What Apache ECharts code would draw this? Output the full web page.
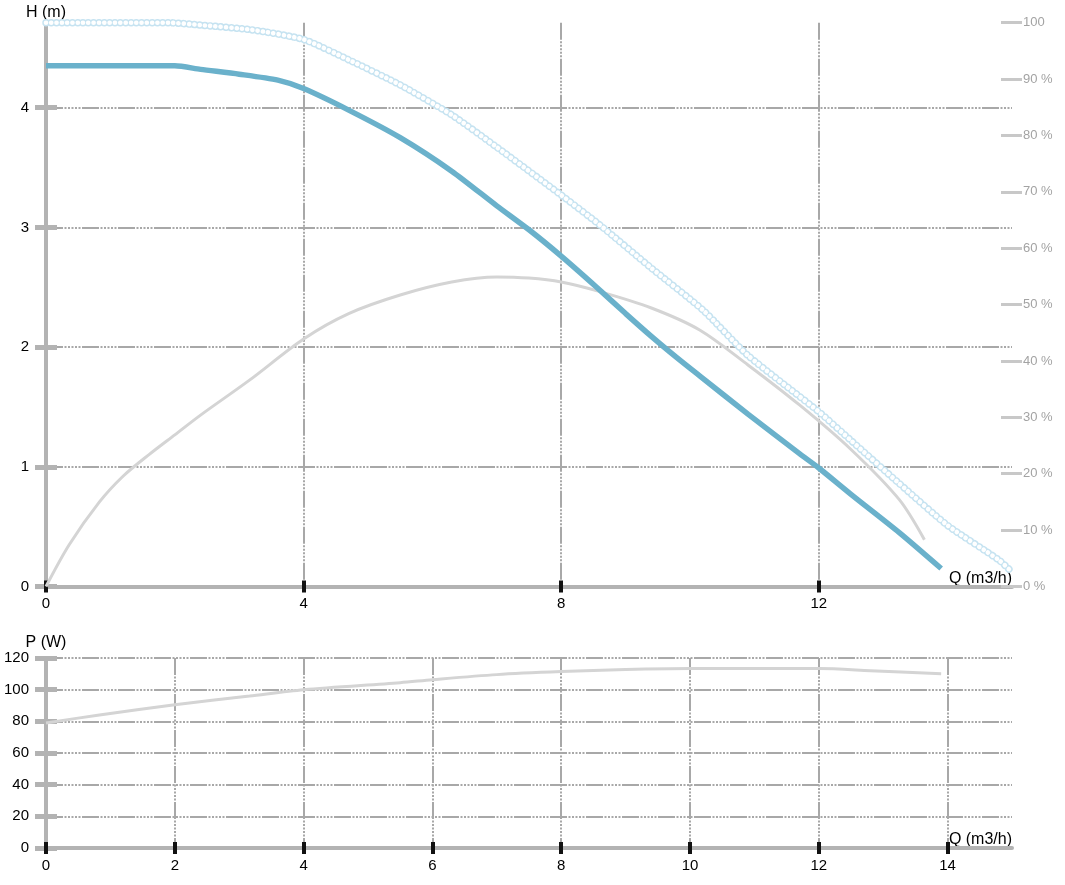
<!DOCTYPE html>
<html><head><meta charset="utf-8">
<script src="https://cdn.jsdelivr.net/npm/echarts@6/dist/echarts.min.js"></script>
<style>html,body{margin:0;padding:0;background:#fff}#c{width:1065px;height:885px}</style>
</head><body><div id="c"></div>
<script>
// ---- data ----
const qTicksTop = [0, 4, 8, 12];
const hTicks = [0, 1, 2, 3, 4];
const qTicksBottom = [0, 2, 4, 6, 8, 10, 12, 14];
const pTicks = [0, 20, 40, 60, 80, 100, 120];

// pump head curve (H, m)
const headQ = [0, 2.0, 2.4, 3.0, 3.6, 4.0, 4.7, 5.5, 6.3, 7.0, 7.5, 8.0, 8.55, 9.0, 9.4, 9.8, 10.15, 10.9, 11.7, 12.0, 12.5, 13.25, 13.9];
const headH = [4.35, 4.35, 4.32, 4.28, 4.23, 4.16, 3.98, 3.75, 3.47, 3.18, 2.98, 2.76, 2.50, 2.28, 2.09, 1.91, 1.76, 1.44, 1.11, 0.99, 0.77, 0.45, 0.15];

// max curve (H, m)
const maxQ = [0, 1.9, 2.4, 3.2, 4.0, 4.7, 5.5, 6.3, 7.0, 8.0, 8.6, 9.4, 10.2, 10.9, 12.0, 12.5, 13.25, 14.0, 14.8, 15.0];
const maxH = [4.71, 4.71, 4.69, 4.65, 4.57, 4.40, 4.19, 3.94, 3.67, 3.27, 3.02, 2.66, 2.31, 1.93, 1.46, 1.22, 0.86, 0.51, 0.22, 0.12];

// efficiency curve (%)
const effQ = [0, 0.36, 0.83, 1.2, 1.6, 2.0, 2.4, 3.16, 4.0, 4.7, 5.5, 6.3, 7.0, 7.5, 8.0, 8.6, 9.4, 10.15, 10.9, 11.7, 12.5, 13.25, 13.64];
const effPct = [0, 7.4, 15.0, 19.6, 23.4, 26.9, 30.4, 36.6, 43.9, 48.4, 51.7, 54.0, 54.9, 54.7, 54.0, 52.3, 49.4, 45.5, 39.3, 32.2, 24.3, 15.4, 8.3];

// power curve (W)
const powQ = [0, 0.83, 2.0, 3.16, 4.0, 5.5, 6.0, 7.0, 8.0, 9.0, 10.0, 12.0, 12.8, 13.9];
const powW = [79, 84, 90.5, 96, 100, 104.4, 106.3, 109.5, 111.4, 112.7, 113.3, 113.3, 112, 110];

// ---- styles ----
const FONT = 'Liberation Sans, Arial, sans-serif';
const gridDash = [17, 1.5, 2, 1.5, 2, 1.5, 2, 1.5, 2, 1.5, 2, 1.5];
const axisGray = '#b3b3b3';
const zip = (a, b) => a.map((v, i) => [v, b[i]]);

const splitStyle = { show: true, lineStyle: { color: '#a8a8a8', width: 2, type: gridDash } };
const lblStyle = { color: '#000', fontSize: 15, fontFamily: FONT };

function xMain(gi, ticks) {
  return {
    type: 'value', gridIndex: gi, min: 0, max: 15, position: 'bottom',
    axisLine: { show: true, onZero: false, lineStyle: { color: axisGray, width: 4 } },
    axisTick: { show: true, customValues: ticks, length: 6, lineStyle: { color: '#111', width: 4 } },
    axisLabel: Object.assign({ customValues: ticks, margin: 10 }, lblStyle),
    splitLine: splitStyle,
    name: 'Q (m3/h)', nameLocation: 'end', nameGap: 0,
    nameTextStyle: { align: 'right', verticalAlign: 'bottom', padding: [0, 0, 0, 0], color: '#000', fontSize: 16, fontFamily: FONT }
  };
}
function xInner(gi, ticks) {
  return {
    type: 'value', gridIndex: gi, min: 0, max: 15, position: 'bottom',
    axisLine: { show: false, onZero: false },
    axisTick: { show: true, inside: true, customValues: ticks, length: 6, lineStyle: { color: '#111', width: 4 } },
    axisLabel: { show: false }, splitLine: { show: false }
  };
}
function yMain(gi, max, ticks, name, nameGap) {
  return {
    type: 'value', gridIndex: gi, min: 0, max: max, position: 'left',
    axisLine: { show: true, onZero: false, lineStyle: { color: axisGray, width: 4 } },
    axisTick: { show: true, customValues: ticks, length: 11, lineStyle: { color: axisGray, width: 5 } },
    axisLabel: Object.assign({ customValues: ticks, margin: 17 }, lblStyle),
    splitLine: splitStyle,
    name: name, nameLocation: 'end', nameGap: nameGap,
    nameTextStyle: { color: '#000', fontSize: 16, fontFamily: FONT, verticalAlign: 'middle' }
  };
}
function yInner(gi, max, ticks) {
  return {
    type: 'value', gridIndex: gi, min: 0, max: max, position: 'left',
    axisLine: { show: false, onZero: false },
    axisTick: { show: true, inside: true, customValues: ticks, length: 11, lineStyle: { color: axisGray, width: 5 } },
    axisLabel: { show: false }, splitLine: { show: false }
  };
}

const option = {
  animation: false,
  backgroundColor: '#fff',
  grid: [
    { left: 46, right: 53, top: 22.7, bottom: 298.5, outerBoundsMode: 'none', containLabel: false },
    { left: 46, right: 53, top: 658, bottom: 37, outerBoundsMode: 'none', containLabel: false }
  ],
  xAxis: [
    xMain(0, qTicksTop),
    xInner(0, qTicksTop),
    xMain(1, qTicksBottom),
    xInner(1, qTicksBottom)
  ],
  yAxis: [
    yMain(0, 4.71, hTicks, 'H (m)', 10),
    yInner(0, 4.71, hTicks),
    {
      type: 'value', gridIndex: 0, min: 0, max: 100, interval: 10, position: 'right', offset: 10,
      axisLine: { show: false, onZero: false },
      axisTick: { show: true, inside: true, length: 21, lineStyle: { color: '#c8c8c8', width: 3 } },
      axisLabel: { margin: 1, color: '#a3a3a3', fontSize: 13, fontFamily: FONT, formatter: '{value} %', padding: [0, 0, 6, 0],
                   width: 32, overflow: 'truncate', ellipsis: '' },
      splitLine: { show: false }
    },
    yMain(1, 120, pTicks, 'P (W)', 10),
    yInner(1, 120, pTicks)
  ],
  series: [
    {
      type: 'line', xAxisIndex: 0, yAxisIndex: 0, data: zip(maxQ, maxH), showSymbol: false, silent: true, clip: false, z: 2,
      smooth: 0.2, lineStyle: { color: '#c6e3f1', width: 7.5, type: [0.1, 5.2], cap: 'round' }
    },
    {
      type: 'line', xAxisIndex: 0, yAxisIndex: 0, data: zip(maxQ, maxH), showSymbol: false, silent: true, clip: false, z: 3,
      smooth: 0.2, lineStyle: { color: '#ffffff', width: 4.6, type: [0.1, 5.2], cap: 'round' }
    },
    {
      type: 'line', xAxisIndex: 0, yAxisIndex: 2, data: zip(effQ, effPct), showSymbol: false, silent: true, z: 4,
      smooth: 0.3, lineStyle: { color: '#d4d4d4', width: 3 }
    },
    {
      type: 'line', xAxisIndex: 0, yAxisIndex: 0, data: zip(headQ, headH), showSymbol: false, silent: true, z: 5,
      smooth: 0.25, lineStyle: { color: '#6ab1cb', width: 5.5 }
    },
    {
      type: 'line', xAxisIndex: 2, yAxisIndex: 3, data: zip(powQ, powW), showSymbol: false, silent: true, z: 4,
      smooth: 0.3, lineStyle: { color: '#d4d4d4', width: 3 }
    }
  ]
};
const chart = echarts.init(document.getElementById('c'), null, { renderer: 'canvas' });
chart.setOption(option);
</script>
</body></html>
